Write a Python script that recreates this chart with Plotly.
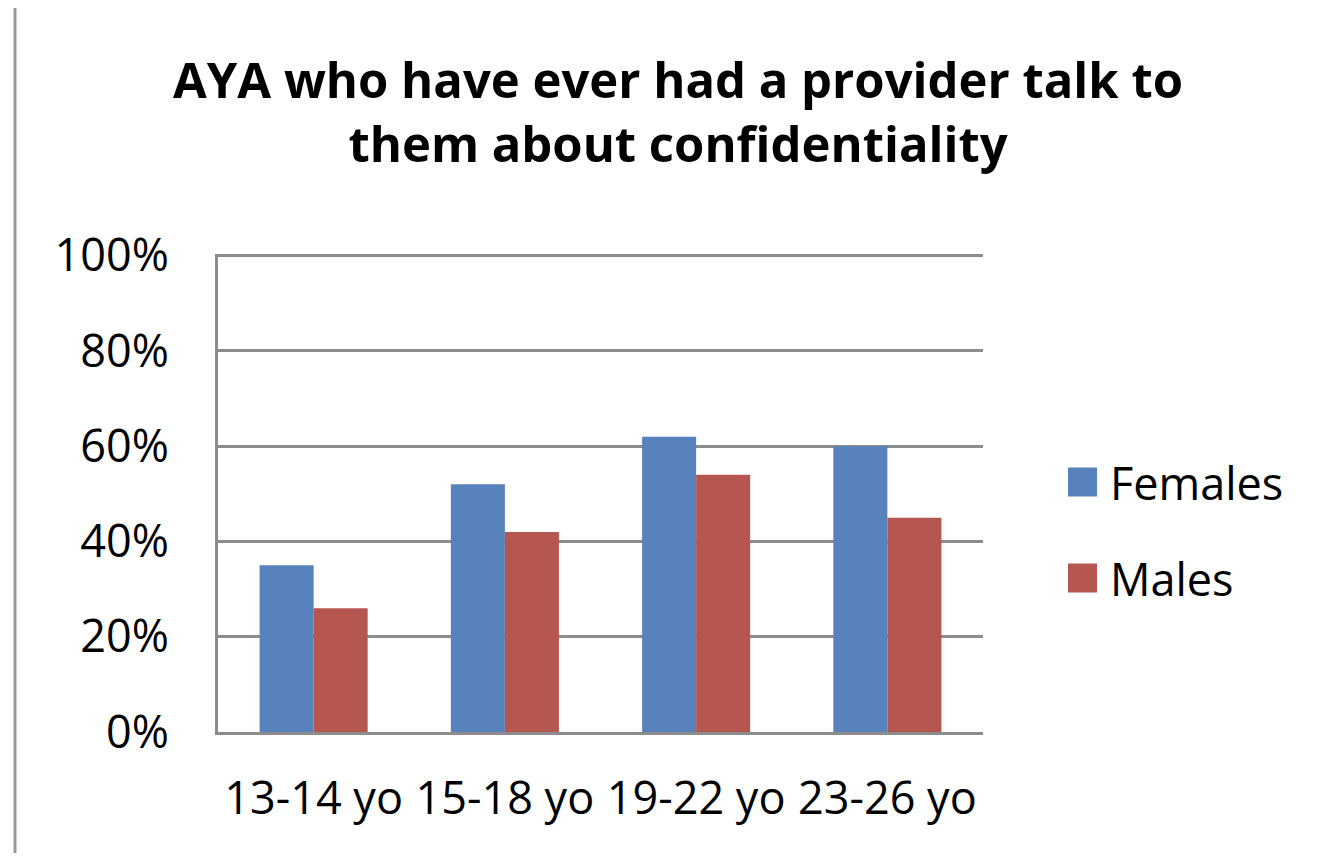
import plotly.graph_objects as go

categories = ["13-14 yo", "15-18 yo", "19-22 yo", "23-26 yo"]
females = [35, 52, 62, 60]
males = [26, 42, 54, 45]
series_names = ["Females", "Males"]
series_colors = ["#5782BB", "#B55650"]
y_ticks = [0, 20, 40, 60, 80, 100]
y_tick_labels = ["0%", "20%", "40%", "60%", "80%", "100%"]

FONT = "Open Sans"
GRID = "#8c8c8c"

# figure sits inside the page body (8px default margin)
W, H = 1311, 845
L, R, T, B = 210, 336, 246, 121
PW, PH = W - L - R, H - T - B


def px_x(X):
    return (X - 8 - L) / PW


def px_y(Y):
    return (H - B - (Y - 8)) / PH


fig = go.Figure()
fig.add_trace(go.Bar(name=series_names[0], x=categories, y=females,
                     marker=dict(color=series_colors[0], line=dict(width=0))))
fig.add_trace(go.Bar(name=series_names[1], x=categories, y=males,
                     marker=dict(color=series_colors[1], line=dict(width=0))))

shapes = [dict(type="line", xref="paper", yref="paper",
               x0=px_x(15), x1=px_x(15), y0=px_y(5), y1=px_y(870),
               line=dict(color="#9a9a9a", width=3))]
annotations = []
legend_centers = [482, 578]
for name, color, cy in zip(series_names, series_colors, legend_centers):
    shapes.append(dict(type="rect", xref="paper", yref="paper",
                       x0=px_x(1068), x1=px_x(1097),
                       y0=px_y(cy - 14.5), y1=px_y(cy + 14.5),
                       fillcolor=color, line=dict(width=0)))
    annotations.append(dict(text=name, xref="paper", yref="paper",
                            x=px_x(1108), y=px_y(cy), xanchor="left",
                            yanchor="middle", showarrow=False,
                            font=dict(size=45, family=FONT, color="black")))

fig.update_layout(
    width=W, height=H,
    paper_bgcolor="white", plot_bgcolor="white",
    margin=dict(l=L, r=R, t=T, b=B),
    barmode="group", bargap=0.435, bargroupgap=0,
    font=dict(family=FONT, color="black"),
    title=dict(text="<b>AYA who have ever had a provider talk to<br>them about confidentiality</b>",
               x=670 / W, xanchor="center", y=1 - 90 / H, yanchor="top",
               font=dict(size=49, family=FONT, color="black")),
    showlegend=False,
    shapes=shapes,
    annotations=annotations,
)
fig.update_xaxes(showgrid=False, showline=True, linecolor=GRID, linewidth=3,
                 ticks="", tickfont=dict(size=45, family=FONT),
                 ticklabelstandoff=25)
fig.update_yaxes(range=[0, 100.35], tickvals=y_ticks, ticktext=y_tick_labels,
                 showgrid=True, gridcolor=GRID, gridwidth=3,
                 showline=True, linecolor=GRID, linewidth=3,
                 zeroline=False, ticks="", tickfont=dict(size=45, family=FONT),
                 ticklabelstandoff=37)

fig.write_html("out.html")
